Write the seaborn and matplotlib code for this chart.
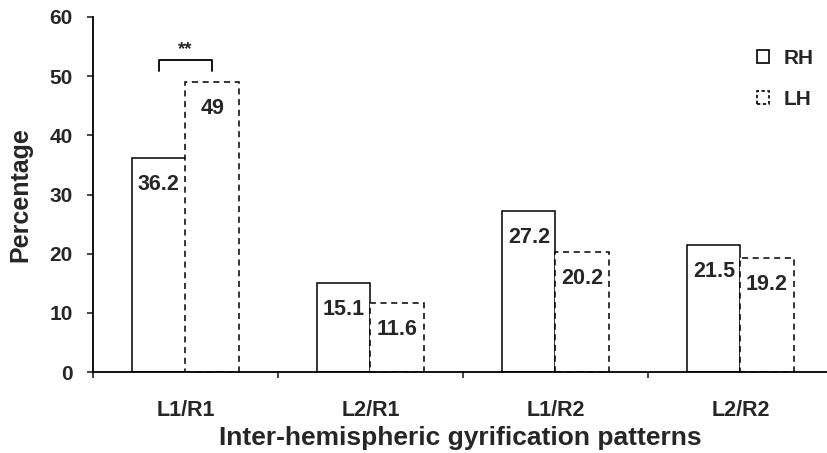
import matplotlib
matplotlib.use("Agg")
import matplotlib.pyplot as plt
import seaborn as sns
import pandas as pd
from matplotlib.patches import Patch

categories = ["L1/R1", "L2/R1", "L1/R2", "L2/R2"]
rh_values = [36.2, 15.1, 27.2, 21.5]
lh_values = [49, 11.6, 20.2, 19.2]
series = ["RH", "LH"]
y_ticks = [0, 10, 20, 30, 40, 50, 60]

df = pd.DataFrame({
    "pattern": categories * 2,
    "pct": rh_values + lh_values,
    "hemi": ["RH"] * len(categories) + ["LH"] * len(categories),
})

sns.set_style("white")
plt.rcParams["font.family"] = ["Liberation Sans", "DejaVu Sans"]
plt.rcParams["font.weight"] = "bold"

fig = plt.figure(figsize=(8.28, 4.53), dpi=100)
ax = fig.add_axes([93 / 828, 81 / 453, 1 - 93 / 828, (372 - 17) / 453])

sns.barplot(data=df, x="pattern", y="pct", hue="hemi", hue_order=series,
            order=categories, palette={"RH": "white", "LH": "white"},
            edgecolor="black", linewidth=1.1, width=0.575, ax=ax,
            legend=False, saturation=1)

# dashed style for LH bars
for p in ax.containers[1]:
    p.set_linestyle((0, (4, 3)))

# value labels
for cont, vals in zip(ax.containers, [rh_values, lh_values]):
    for p, v in zip(cont, vals):
        ax.annotate(f"{v:g}", xy=(p.get_x() + p.get_width() / 2, p.get_height()),
                    xytext=(0, -19), textcoords="offset points",
                    ha="center", va="center", fontsize=15.5, fontweight="bold")

# significance bracket over first group
p_rh = ax.containers[0][0]
p_lh = ax.containers[1][0]
x1 = p_rh.get_x() + p_rh.get_width() / 2
x2 = p_lh.get_x() + p_lh.get_width() / 2
ax.plot([x1, x1, x2, x2], [50.9, 52.7, 52.7, 50.9], color="black", lw=1.3,
        clip_on=False)
ax.text((x1 + x2) / 2, 53.0, "**", ha="center", va="bottom", fontsize=13.5,
        fontweight="bold")

ax.set_xlim(-0.5, -0.5 + (828 - 93) / 185.0)
ax.set_ylim(0, 60)
ax.set_yticks(y_ticks)
ax.set_yticklabels([str(t) for t in y_ticks])

# category ticks without marks, boundary ticks as minor
ax.set_xticks(range(len(categories)))
ax.set_xticklabels(categories)
ax.set_xticks([-0.5, 0.5, 1.5, 2.5], minor=True)
ax.tick_params(axis="x", which="major", length=0, pad=20, labelsize=15.5)
ax.tick_params(axis="x", which="minor", length=4.5, width=1.2, direction="out",
               bottom=True)
ax.tick_params(axis="y", which="major", length=4.5, width=1.2, direction="out",
               left=True, pad=10, labelsize=15)
for lbl in ax.get_xticklabels() + ax.get_yticklabels():
    lbl.set_fontweight("bold")

for s in ["top", "right"]:
    ax.spines[s].set_visible(False)
for s in ["left", "bottom"]:
    ax.spines[s].set_linewidth(1.3)
    ax.spines[s].set_color("black")

ax.set_xlabel("Inter-hemispheric gyrification patterns", fontsize=19,
              fontweight="bold", labelpad=4)
ax.set_ylabel("Percentage", fontsize=18, fontweight="bold", labelpad=12)

handles = [Patch(facecolor="white", edgecolor="black", linewidth=1.2, label="RH"),
           Patch(facecolor="white", edgecolor="black", linewidth=1.2,
                 linestyle=(0, (2, 1.5)), label="LH")]
leg = fig.legend(handles=handles, loc="upper right", bbox_to_anchor=(1.0, 0.924),
                 frameon=False, handlelength=0.55, handleheight=0.55,
                 handletextpad=0.7, labelspacing=1.05,
                 borderaxespad=0.3, prop={"size": 15, "weight": "bold"})

fig.savefig("out.png", dpi=100)
